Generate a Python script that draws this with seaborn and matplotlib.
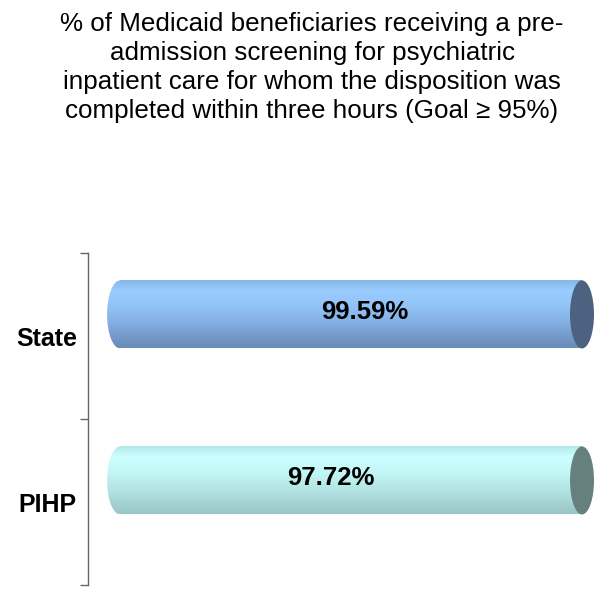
import matplotlib
matplotlib.use('Agg')
import matplotlib.pyplot as plt
import seaborn as sns
import numpy as np
import pandas as pd
from matplotlib.colors import LinearSegmentedColormap
from matplotlib.patches import Ellipse

# dados do grafico
grupos = ['State', 'PIHP']
valores = [99.59, 97.72]
rotulos = ['99.59%', '97.72%']

titulo = ('% of Medicaid beneficiaries receiving a pre-\n'
          'admission screening for psychiatric\n'
          'inpatient care for whom the disposition was\n'
          'completed within three hours (Goal \u2265 95%)')

# cores dos cilindros (de cima para baixo) e da tampa
degrade_state = ['#86b4e8', '#99ccff', '#94c6fa', '#8cbaee', '#82acdf', '#7599c9', '#6a8cb8']
degrade_pihp = ['#b3e6e6', '#ccffff', '#c6fafa', '#bdeeee', '#b3e3e3', '#a6d3d3', '#9cc6c6']
cores_degrade = [degrade_state, degrade_pihp]
cores_tampa = ['#4d6180', '#668080']
cor_eixo = '#666666'

sns.set_theme(style='white')
plt.rcParams['font.family'] = ['Liberation Sans', 'DejaVu Sans']

df = pd.DataFrame({'grupo': grupos, 'valor': valores})

fig = plt.figure(figsize=(6.04, 5.89), dpi=100)
W, H = 604, 589
ax = fig.add_axes([88 / W, 4 / H, (582 - 88) / W, (585 - 253) / H])

x_min, x_max = -6.6, 95
sns.barplot(data=df, x='valor', y='grupo', hue='grupo', palette=['#99ccff', '#ccffff'],
            orient='h', width=0.41, legend=False, ax=ax, linewidth=0)
barras = list(ax.patches)
ax.set_xlim(x_min, x_max)
ax.set_ylim(1.5, -0.5)

px_x = (582 - 88) / (x_max - x_min)   # pixels por unidade x
desloc = -0.13                        # efeito 3D: barras um pouco acima
meia_tampa = 12 / px_x
meia_esq = 13 / px_x

for i, p in enumerate(barras):
    p.set_y(p.get_y() + desloc)
    y0 = p.get_y()
    h = p.get_height()
    fim = min(p.get_width(), x_max)
    cmap = LinearSegmentedColormap.from_list('cil%d' % i, cores_degrade[i])
    grad = np.linspace(0, 1, 200).reshape(-1, 1)
    # corpo do cilindro
    img = ax.imshow(grad, cmap=cmap, aspect='auto', extent=[0, fim, y0 + h, y0],
                    origin='upper', zorder=3, interpolation='bilinear')
    img.set_clip_path(p)
    # ponta esquerda arredondada
    el_esq = Ellipse((0, y0 + h / 2), 2 * meia_esq, h, facecolor='none', edgecolor='none')
    ax.add_patch(el_esq)
    img2 = ax.imshow(grad, cmap=cmap, aspect='auto', extent=[-meia_esq, 0, y0 + h, y0],
                     origin='upper', zorder=3, interpolation='bilinear')
    img2.set_clip_path(el_esq)
    # tampa da direita
    ax.add_patch(Ellipse((fim, y0 + h / 2), 2 * meia_tampa, h, facecolor=cores_tampa[i],
                         edgecolor='none', zorder=4, clip_on=False))

ax.set_xlim(x_min, x_max)
ax.set_ylim(1.5, -0.5)

# rotulos de valor
pos_rotulo = [0.561, 0.492]
for i, p in enumerate(barras):
    ax.text(pos_rotulo[i], p.get_y() + p.get_height() / 2 - 0.012, rotulos[i],
            transform=ax.get_yaxis_transform(), ha='center', va='center',
            fontsize=18.5, fontweight='bold', color='black', zorder=6)

# eixos
ax.set_xlabel('')
ax.set_ylabel('')
ax.set_xticks([])
ax.set_yticks([0, 1])
ax.set_yticklabels(grupos, fontsize=18, fontweight='bold', color='black')
ax.set_yticks([-0.5, 0.5, 1.5], minor=True)
ax.tick_params(axis='y', which='major', length=0, pad=8)
ax.tick_params(axis='y', which='minor', length=6, width=1, color=cor_eixo, direction='out', left=True)
for lado in ['top', 'right', 'bottom']:
    ax.spines[lado].set_visible(False)
ax.spines['left'].set_color(cor_eixo)
ax.spines['left'].set_linewidth(1)
ax.set_facecolor('none')

fig.text(312 / W, 1 - 12 / H, titulo, ha='center', va='top', fontsize=18.7,
         linespacing=1.27, color='black')

fig.savefig('out.png', dpi=100, facecolor='white')
